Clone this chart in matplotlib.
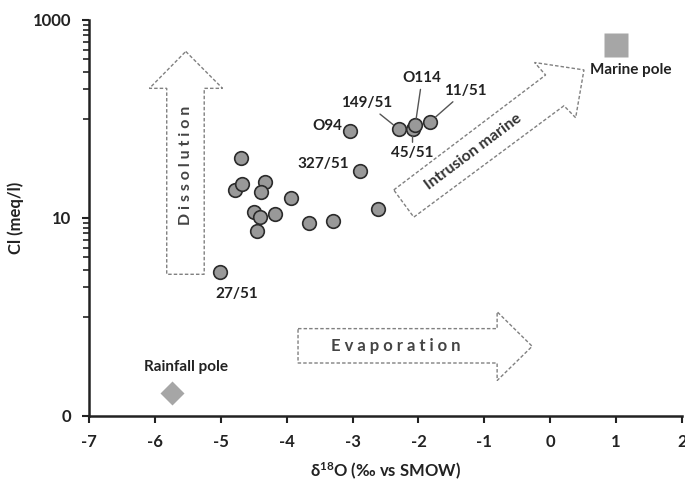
import matplotlib
matplotlib.use("Agg")
import matplotlib.pyplot as plt
from matplotlib.patches import Polygon
from matplotlib.ticker import FixedLocator, NullFormatter

plt.rcParams["font.family"] = ["Lato", "DejaVu Sans"]
plt.rcParams["font.weight"] = "bold"
plt.rcParams["axes.labelweight"] = "bold"
plt.rcParams["mathtext.fontset"] = "custom"
plt.rcParams["mathtext.rm"] = "Lato:bold"
plt.rcParams["mathtext.default"] = "rm"

# samples: d18O (permil vs SMOW) and Cl (meq/l)
d18o = [-5.01, -4.70, -4.78, -4.68, -4.33, -4.39, -3.93, -4.50, -4.40, -4.18,
        -4.45, -3.66, -3.29, -2.61, -2.89, -3.04, -2.30, -2.09, -2.05, -1.82]
cl = [2.85, 40.4, 19.4, 22.1, 23.0, 18.2, 16.0, 11.4, 10.2, 11.0,
      7.4, 9.0, 9.4, 12.3, 29.5, 75.0, 79.0, 79.0, 86.0, 94.0]

# labelled samples: (index, name, offset in points, leader line?)
labels = [
    (0, "27/51", (12, -16), False),
    (15, "O94", (-16, 4), False),
    (14, "327/51", (-26, 5.5), False),
    (16, "149/51", (-23, 18.5), True),
    (17, "45/51", (0, -17.5), True),
    (18, "O114", (5, 34), True),
    (19, "11/51", (25, 22), True),
]

marine_pole = (1.0, 560.0)
rainfall_pole = (-5.74, 0.172)

x_ticks = [-7, -6, -5, -4, -3, -2, -1, 0, 1, 2]
y_major = [0.1, 10, 1000]
y_major_labels = ["0", "10", "1000"]
y_minor = [1, 2, 3, 4, 5, 6, 7, 8, 9, 100, 200, 300, 400, 500, 600, 700, 800, 900]

fig = plt.figure(figsize=(6.85, 4.84), dpi=100)
ax = fig.add_axes([0.130, 0.1405, 0.8656, 0.8182])

ax.set_yscale("log")
ax.set_xlim(-7, 2)
ax.set_ylim(0.1, 1000)

# process arrows (hollow, dashed outline)
arrow_style = dict(fill=False, edgecolor="#808080", lw=1.0, ls=(0, (2.5, 1.5)))
dissolution = [(-5.532, 481), (-4.974, 204), (-5.252, 204), (-5.252, 2.70),
               (-5.821, 2.70), (-5.821, 204), (-6.084, 204)]
evaporation = [(-3.828, 0.763), (-0.806, 0.763), (-0.806, 1.13), (-0.274, 0.506),
               (-0.806, 0.228), (-0.806, 0.343), (-3.828, 0.343)]
intrusion = [(-2.375, 19.2), (-0.070, 278), (-0.237, 372), (0.512, 313),
             (0.386, 103), (0.208, 136), (-2.071, 10.2)]
for verts in (dissolution, evaporation, intrusion):
    ax.add_patch(Polygon(verts, closed=True, **arrow_style))

ax.text(-5.535, 33.7, "D i s s o l u t i o n", rotation=90, ha="center",
        va="center", fontsize=11.5, color="#444444")
ax.text(-2.35, 0.508, "E v a p o r a t i o n", ha="center", va="center",
        fontsize=12, color="#444444")
ax.text(-1.164, 46.8, "Intrusion marine", rotation=36.8, rotation_mode="anchor",
        ha="center", va="center", fontsize=11.5, color="#333333")

# samples
ax.plot(d18o, cl, "o", ms=9.8, mfc="#999999", mec="#2b2b2b", mew=1.2,
        zorder=3, clip_on=False)

for i, name, off, leader in labels:
    props = None
    if leader:
        props = dict(arrowstyle="-", color="#555555", lw=1.0, shrinkA=1, shrinkB=5)
    ax.annotate(name, (d18o[i], cl[i]), xytext=off, textcoords="offset points",
                ha="center", va="center", fontsize=11, fontweight="bold",
                color="#222222", arrowprops=props)

# end members
ax.plot(*marine_pole, "s", ms=17, color="#a6a6a6", mec="none", clip_on=False)
ax.text(1.222, 310, "Marine pole", ha="center", va="center", fontsize=11,
        fontweight="bold", color="#222222")
ax.plot(*rainfall_pole, "D", ms=12, color="#a6a6a6", mec="none", clip_on=False)
ax.text(-5.533, 0.314, "Rainfall pole", ha="center", va="center", fontsize=11,
        fontweight="bold", color="#222222")

# axes
for side in ("top", "right"):
    ax.spines[side].set_visible(False)
for side in ("left", "bottom"):
    ax.spines[side].set_linewidth(1.8)
    ax.spines[side].set_color("#222222")

ax.xaxis.set_major_locator(FixedLocator(x_ticks))
ax.set_xticklabels([str(t) for t in x_ticks], fontweight="bold")
ax.yaxis.set_major_locator(FixedLocator(y_major))
ax.set_yticklabels(y_major_labels, fontweight="bold")
ax.yaxis.set_minor_locator(FixedLocator(y_minor))
ax.yaxis.set_minor_formatter(NullFormatter())
ax.tick_params(axis="both", which="major", direction="out", length=5, width=1.5,
               color="#222222", labelsize=12, labelcolor="#222222", pad=8)
ax.tick_params(axis="y", which="minor", direction="out", length=4, width=1.2,
               color="#222222")

ax.set_xlabel(r"δ$^{18}$O (‰ vs SMOW)", fontsize=12, fontweight="bold",
              color="#222222", labelpad=8)
ax.set_ylabel("Cl (meq/l)", fontsize=12, fontweight="bold", color="#222222",
              labelpad=6)

fig.savefig("out.png", dpi=100)
